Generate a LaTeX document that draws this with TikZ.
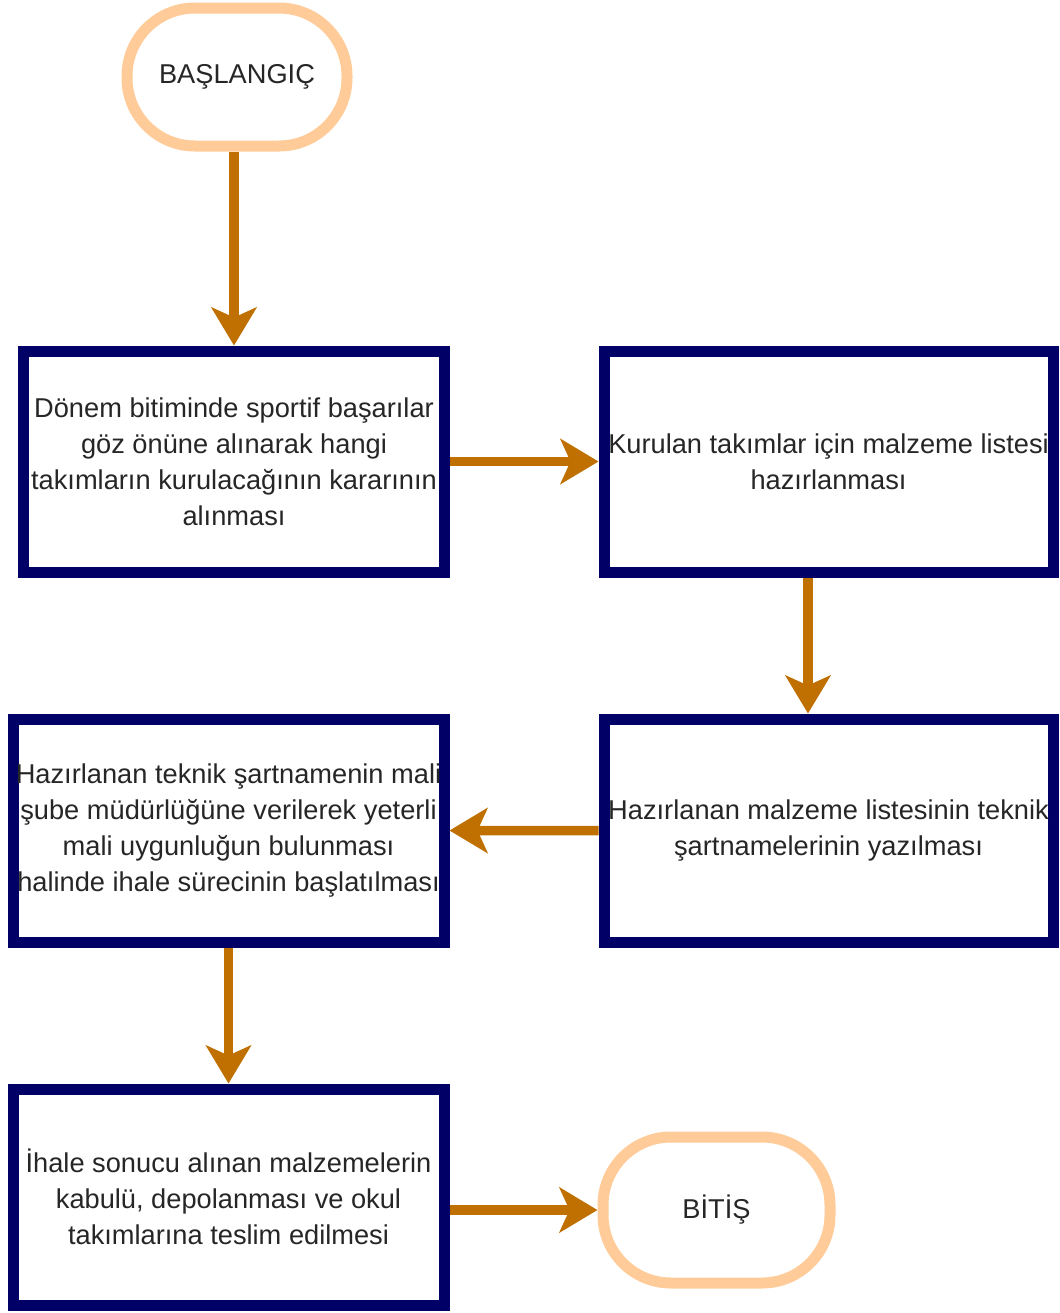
\documentclass[tikz,border=0pt]{standalone}
\usepackage{fontspec}
\setmainfont{Liberation Sans}
\usepackage{tikz}
\usetikzlibrary{positioning}
\usetikzlibrary{arrows.meta}

\definecolor{navybox}{RGB}{0,0,102}
\definecolor{peach}{RGB}{255,204,153}
\definecolor{flowc}{RGB}{191,112,0}

\tikzset{
    stepbox/.style={draw=navybox, line width=0.22cm, fill=white, align=center, inner sep=0pt,
        font=\fontsize{15.5}{20.5}\selectfont, text=black!85},
    term/.style={draw=peach, line width=0.22cm, fill=white, rounded corners=1.36cm, align=center,
        font=\fontsize{15.5}{20.5}\selectfont, text=black!85},
    flow/.style={draw=flowc, line width=0.19cm, -{Stealth[length=0.76cm, width=0.9cm, inset=0.2cm]}},
}

\begin{document}
\begin{tikzpicture}
    \useasboundingbox (0,0) rectangle (21.18,-26.26);

    \node [term, minimum width=4.4cm, minimum height=2.76cm] (start) at (4.74,-1.54) {BAŞLANGIÇ};

    \node [stepbox, minimum width=8.4cm, minimum height=4.42cm] (b1) at (4.68,-9.23)
        {Dönem bitiminde sportif başarılar\\göz önüne alınarak hangi\\takımların kurulacağının kararının\\alınması};
    \node [stepbox, minimum width=8.98cm, minimum height=4.42cm] (b2) at (16.57,-9.23)
        {Kurulan takımlar için malzeme listesi\\hazırlanması};
    \node [stepbox, minimum width=8.98cm, minimum height=4.46cm, below=2.72cm of b2] (b3)
        {Hazırlanan malzeme listesinin teknik\\şartnamelerinin yazılması};
    \node [stepbox, minimum width=8.62cm, minimum height=4.46cm] (b4) at (4.57,-16.61)
        {Hazırlanan teknik şartnamenin mali\\şube müdürlüğüne verilerek yeterli\\mali uygunluğun bulunması\\halinde ihale sürecinin başlatılması};
    \node [stepbox, minimum width=8.62cm, minimum height=4.32cm, below=2.72cm of b4] (b5)
        {İhale sonucu alınan malzemelerin\\kabulü, depolanması ve okul\\takımlarına teslim edilmesi};

    \node [term, minimum width=4.54cm, minimum height=2.92cm] (end) at (14.33,-24.2) {BİTİŞ};

    % connectors
    \draw [flow] (start.south -| b1.north) -- (b1.north);
    \draw [flow] (b1.east) -- (b2.west);
    \draw [flow] ([xshift=-0.41cm]b2.south) -- ([xshift=-0.41cm]b3.north);
    \draw [flow] (b3.west) -- (b4.east);
    \draw [flow] (b4.south) -- (b5.north);
    \draw [flow] (b5.east |- end) -- (end.west);
\end{tikzpicture}
\end{document}
